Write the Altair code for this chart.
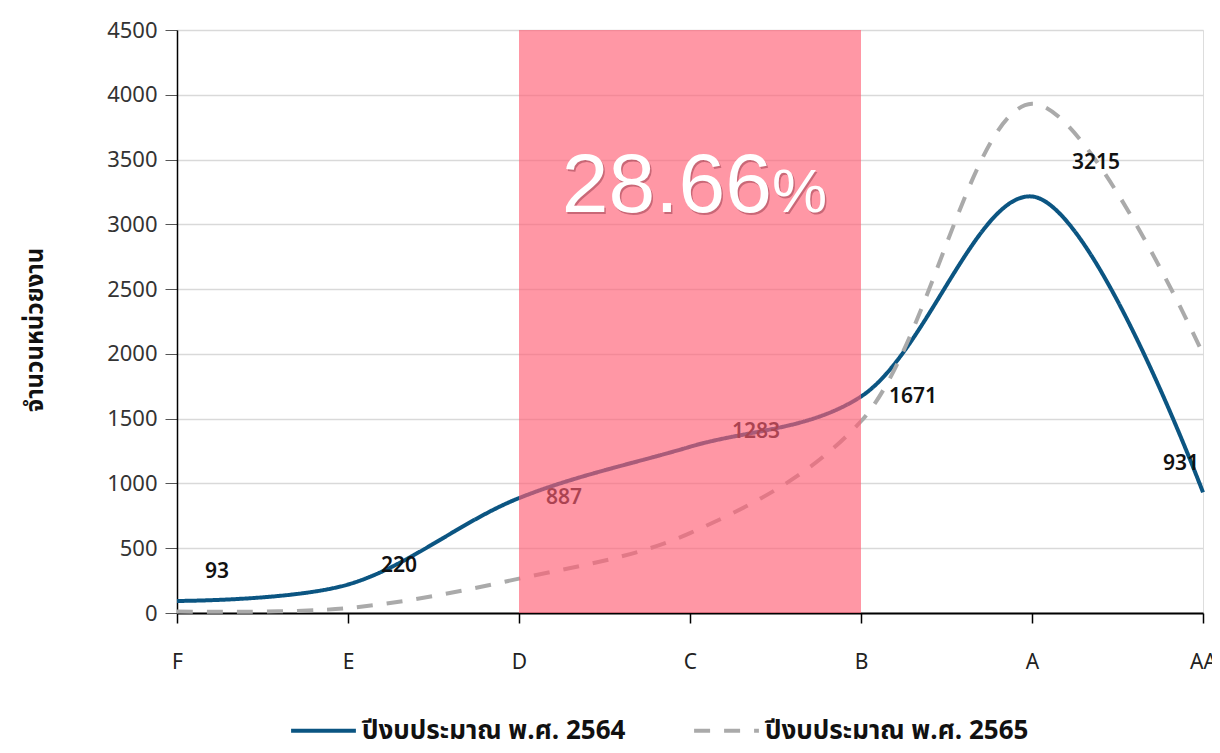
import altair as alt
import pandas as pd

categories = ["F", "E", "D", "C", "B", "A", "AA"]
series_2564 = [93, 220, 887, 1283, 1671, 3215, 931]
series_2565 = [12, 38, 265, 617, 1480, 3930, 2000]
name_2564 = "ปีงบประมาณ พ.ศ. 2564"
name_2565 = "ปีงบประมาณ พ.ศ. 2565"
band_start, band_end = "D", "B"
band_number = "28.66"
band_unit = "%"
y_title = "จำนวนหน่วยงาน"

FONT = "Tahoma, Noto Sans Thai, Noto Sans, DejaVu Sans, sans-serif"
BIGFONT = "Liberation Sans, Arial, sans-serif"

rows = []
for c, v in zip(categories, series_2564):
    rows.append({"cat": c, "value": v, "series": name_2564})
for c, v in zip(categories, series_2565):
    rows.append({"cat": c, "value": v, "series": name_2565})
df = pd.DataFrame(rows)
df_lab = pd.DataFrame({"cat": categories, "value": series_2564})

W, H = 1026, 583

x_enc = alt.X("cat:N", sort=categories, scale=alt.Scale(type="point", padding=0, domain=categories),
              axis=alt.Axis(title=None, domainColor="#000", domainWidth=2, tickColor="#000", tickWidth=1.5,
                            tickSize=10, labelPadding=28, labelFontSize=21, labelColor="#222",
                            labelFont=FONT, grid=False, labelAngle=0))
y_scale = alt.Scale(domain=[0, 4500], nice=False)

base = alt.Chart(df)

lines = base.mark_line(interpolate="catmull-rom", strokeWidth=4).encode(
    x=x_enc,
    y=alt.Y("value:Q", scale=y_scale,
            axis=alt.Axis(values=list(range(0, 4501, 500)), format="d", title=y_title, titleFont=FONT,
                          titleFontSize=24, titleFontWeight="bold", titleColor="#111",
                          titleX=-130, titleY=H / 2 + 8, titleAlign="center",
                          labelFont=FONT, labelFontSize=22, labelColor="#333", labelPadding=8,
                          domainColor="#000", domainWidth=1.5, tickColor="#555", tickSize=12,
                          gridColor="#d9d9d9", gridWidth=1.5)),
    color=alt.Color("series:N", scale=alt.Scale(domain=[name_2564, name_2565], range=["#0b5582", "#aaaaaa"]),
                    legend=alt.Legend(orient="none", legendX=112, legendY=666, direction="horizontal",
                                      title=None, symbolType="stroke", symbolSize=4200, symbolStrokeWidth=4,
                                      labelFont=FONT, labelFontSize=26, labelFontWeight="bold",
                                      labelColor="#111", labelLimit=400, columnPadding=60, labelOffset=4)),
    strokeDash=alt.StrokeDash("series:N", scale=alt.Scale(domain=[name_2564, name_2565], range=[[1, 0], [16, 14]]),
                              legend=None),
)

offsets = [(40, -29), (51, -18), (45, 0), (66, -15), (52, 0), (64, -33), (-22, -28)]
labels = []
for i, (dx, dy) in enumerate(offsets):
    labels.append(
        alt.Chart(df_lab.iloc[[i]]).mark_text(font=FONT, fontSize=21, color="#111", dx=dx, dy=dy,
                                              fontWeight=600).encode(
            x=alt.X("cat:N", sort=categories), y=alt.Y("value:Q", scale=y_scale), text="value:Q")
    )

band_df = pd.DataFrame({"start": [band_start], "end": [band_end], "lo": [0], "hi": [4500]})
band = alt.Chart(band_df).mark_rect(color="#ff5f74", opacity=0.65).encode(
    x=alt.X("start:N", sort=categories), x2="end:N", y=alt.Y("lo:Q", scale=y_scale), y2="hi:Q")

txt_df = pd.DataFrame({"cat": ["C"], "value": [3094], "n": [band_number], "u": [band_unit]})
big_layers = []
for col, size, align, dx0 in [("n", 84, "right", 82), ("u", 62, "left", 82)]:
    big_layers.append(
        alt.Chart(txt_df).mark_text(font=BIGFONT, fontSize=size, color="#8a3040", opacity=0.45,
                                    align=align, baseline="alphabetic", dx=dx0 + 1.5, dy=1.5).encode(
            x=alt.X("cat:N", sort=categories), y=alt.Y("value:Q", scale=y_scale), text=f"{col}:N"))
    big_layers.append(
        alt.Chart(txt_df).mark_text(font=BIGFONT, fontSize=size, color="#ffffff",
                                    align=align, baseline="alphabetic", dx=dx0).encode(
            x=alt.X("cat:N", sort=categories), y=alt.Y("value:Q", scale=y_scale), text=f"{col}:N"))

chart = alt.layer(lines, *labels, band, *big_layers).properties(
    width=W, height=H,
    autosize=alt.AutoSizeParams(type="none"),
    padding={"left": 169, "top": 22, "right": 9, "bottom": 138},
).configure_view(stroke=None).configure(background="white")

chart.save("out.html", embed_options={"renderer": "svg", "actions": False})
